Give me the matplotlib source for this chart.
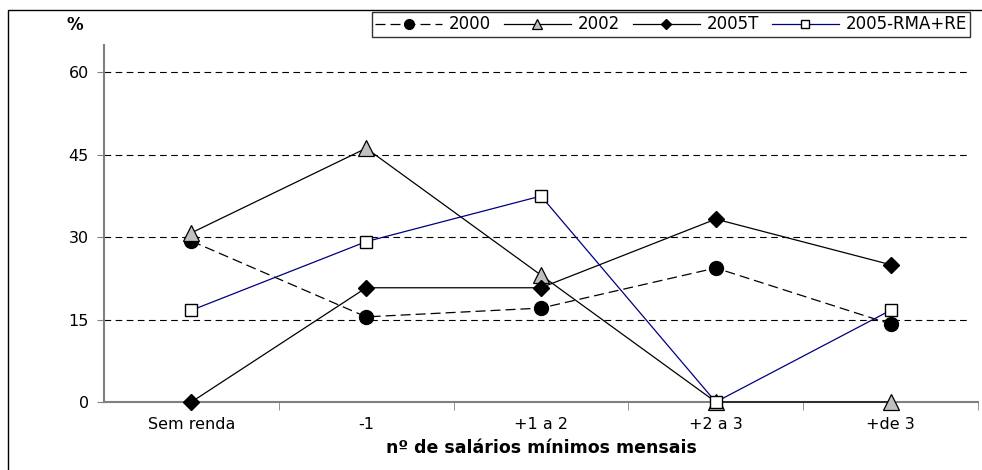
import matplotlib
matplotlib.use("Agg")
import matplotlib.pyplot as plt
from matplotlib.patches import Rectangle
import numpy as np

plt.rcParams['font.family'] = ['DejaVu Sans']

categories = ["Sem renda", "-1", "+1 a 2", "+2 a 3", "+de 3"]
s2000 = [29.3, 15.5, 17.1, 24.4, 14.2]
s2002 = [30.8, 46.2, 23.1, 0.0, 0.0]
s2005t = [0.0, 20.8, 20.8, 33.3, 25.0]
s2005rma = [16.7, 29.2, 37.5, 0.0, 16.7]
yticks = [0, 15, 30, 45, 60]

fig = plt.figure(figsize=(9.82, 4.70), dpi=100)
ax = fig.add_axes([104/982, 68/470, 874/982, 357/470])

x = np.arange(len(categories))

ax.plot(x, s2000, color='black', lw=0.9, ls=(0, (8, 4)), marker='o',
        markersize=10, markerfacecolor='black', markeredgecolor='black',
        label='2000', clip_on=False, zorder=3)
ax.plot(x, s2002, color='black', lw=0.9, marker='^', markersize=11,
        markerfacecolor='#c0c0c0', markeredgecolor='black', markeredgewidth=0.9,
        label='2002', clip_on=False, zorder=3)
ax.plot(x, s2005t, color='black', lw=0.9, marker='D', markersize=8,
        markerfacecolor='black', markeredgecolor='black',
        label='2005T', clip_on=False, zorder=3)
ax.plot(x, s2005rma, color='#000080', lw=0.9, marker='s', markersize=9,
        markerfacecolor='white', markeredgecolor='black', markeredgewidth=1.0,
        label='2005-RMA+RE', clip_on=False, zorder=4)

ax.set_xlim(-0.5, len(categories) - 0.5)
ax.set_ylim(0, 65)
ax.set_yticks(yticks)
ax.set_yticklabels([str(v) for v in yticks], fontsize=11.5)
for v in yticks[1:]:
    ax.axhline(v, color='black', lw=0.8, ls=(0, (6, 4)), zorder=1, xmax=0.99)

ax.set_xticks(x)
ax.set_xticklabels(categories, fontsize=11.5)
ax.set_xticks(np.arange(0.5, len(categories), 1.0), minor=True)
ax.tick_params(axis='x', which='major', length=0, pad=11)
ax.tick_params(axis='x', which='minor', length=6, color='#808080', direction='out')
ax.tick_params(axis='y', length=5, color='#808080', direction='out', pad=6)

for side in ('top', 'right'):
    ax.spines[side].set_visible(False)
for side in ('left', 'bottom'):
    ax.spines[side].set_color('#808080')
    ax.spines[side].set_linewidth(1.5)

ax.set_xlabel("nº de salários mínimos mensais", fontsize=12.5, fontweight='bold', labelpad=5)
fig.text(75/982, 1 - 25/470, "%", fontsize=12, fontweight='bold', ha='center', va='center')

leg = fig.legend(loc='upper left', bbox_to_anchor=(372/982, 1 - 12/470), ncol=4,
                 fontsize=12, frameon=True, fancybox=False, edgecolor='black',
                 handlelength=4.0, handletextpad=0.4, columnspacing=0.8,
                 borderpad=0.2, borderaxespad=0, markerscale=0.7)
leg.get_frame().set_linewidth(1.0)

# outer chart frame
fig.patches.append(Rectangle((8/982, -0.1), 1.2, 1 - 10/470 + 0.1,
                             transform=fig.transFigure, fill=False,
                             edgecolor='black', lw=1.0))

fig.savefig("out.png", dpi=100)
